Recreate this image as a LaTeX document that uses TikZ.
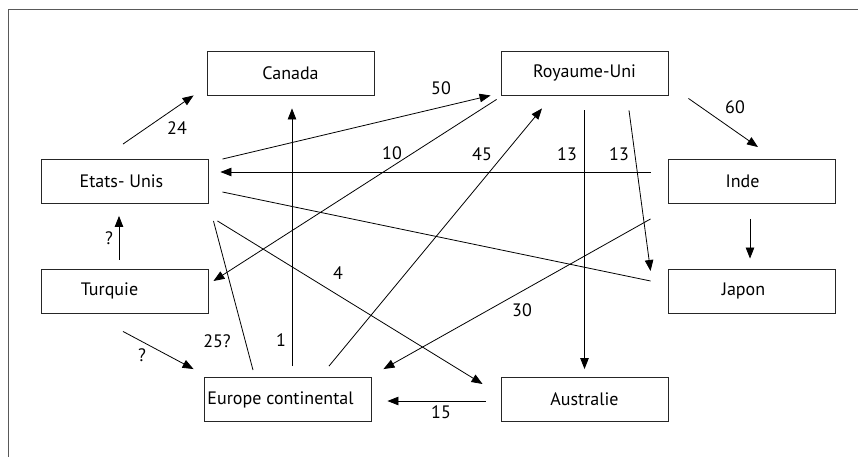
\documentclass[tikz,border=0pt]{standalone}
\usepackage{fontspec}
\setmainfont{PT Sans}
\usetikzlibrary{arrows.meta}
\begin{document}
\begin{tikzpicture}[x=1pt,y=-1pt,
  country/.style={draw=black!85,line width=0.9pt,minimum width=167pt,minimum height=44pt,
    inner sep=0pt,font=\fontsize{18}{21}\selectfont},
  flow/.style={line width=0.8pt,-{Triangle[length=11pt,width=8.5pt]}},
  plain/.style={line width=0.8pt},
  lbl/.style={font=\fontsize{18}{21}\selectfont,inner sep=0pt}]
\useasboundingbox (0,0) rectangle (858,457);
% frame
\draw[black!65,line width=1pt] (8,457) -- (8,10) -- (858,10);
% countries
\node[country] (can) at (290.5,73) {Canada};
\node[country] (ru)  at (584.5,73) {Royaume-Uni};
\node[country] (eu)  at (124.5,181.5) {\hspace*{-6pt}Etats- Unis};
\node[country] (ind) at (751.5,181.5) {\hspace*{-18pt}Inde};
\node[country] (tur) at (124.5,291) {\hspace*{-30pt}Turquie};
\node[country] (jap) at (751.5,291) {\hspace*{-16pt}Japon};
\node[country] (euc) at (287.5,399.5) {\hspace*{-14pt}Europe continental};
\node[country] (aus) at (584.5,399.5) {Australie};
% flows
\draw[flow] ([shift={(-1.5,-15)}]eu.north) -- ([shift={(-13,0)}]can.south west);
\draw[flow] ([shift={(4.5,-11)}]euc.north) -- ([shift={(1.5,13)}]can.south);
\draw[flow] ([shift={(14,0)}]eu.north east) -- ([shift={(-10,0)}]ru.south west);
\draw[flow] ([shift={(-4,4)}]ru.south west) -- ([shift={(5,-10)}]tur.east);
\draw[flow] ([shift={(41.5,-11)}]euc.north) -- ([shift={(-42.5,13)}]ru.south);
\draw[flow] ([shift={(0,15)}]ru.south) -- ([shift={(0,-8)}]aus.north);
\draw[flow] ([shift={(44.5,15)}]ru.south) -- ([shift={(-17,-20)}]jap.west);
\draw[flow] ([shift={(20,3)}]ru.south east) -- ([shift={(6.5,-12)}]ind.north);
\draw[flow] ([shift={(-17,-9.5)}]ind.west) -- ([shift={(12,-9.5)}]eu.east);
\draw[flow] ([shift={(-1.5,15)}]ind.south) -- ([shift={(-1.5,-10)}]jap.north);
\draw[plain] ([shift={(14,10.5)}]eu.east) -- ([shift={(-17,-10)}]jap.west);
\draw[flow] ([shift={(-17,15)}]ind.south west) -- ([shift={(12,-8)}]euc.north east);
\draw[flow] ([shift={(9,17)}]eu.south east) -- ([shift={(-18,-15.5)}]aus.west);
\draw[plain] ([shift={(-34.5,-7)}]euc.north) -- ([shift={(5,17)}]eu.south east);
\draw[flow] ([shift={(-5.5,-9)}]tur.north) -- ([shift={(-5.5,12)}]eu.south);
\draw[flow] ([shift={(-1.5,18)}]tur.south) -- ([shift={(-10,-8)}]euc.north west);
\draw[flow] ([shift={(-15,1.5)}]aus.west) -- ([shift={(16,1.5)}]euc.east);
% quantities
\node[lbl] at (177,128) {24};
\node[lbl] at (281,340) {1};
\node[lbl] at (441,88) {50};
\node[lbl] at (392,153) {10};
\node[lbl] at (482,154) {45};
\node[lbl] at (567,154) {13};
\node[lbl] at (619,154) {13};
\node[lbl] at (735,107) {60};
\node[lbl] at (522,310) {30};
\node[lbl] at (338,273) {4};
\node[lbl] at (217,341) {25?};
\node[lbl] at (109,238) {?};
\node[lbl] at (142,355) {?};
\node[lbl] at (441,412) {15};
\end{tikzpicture}
\end{document}
